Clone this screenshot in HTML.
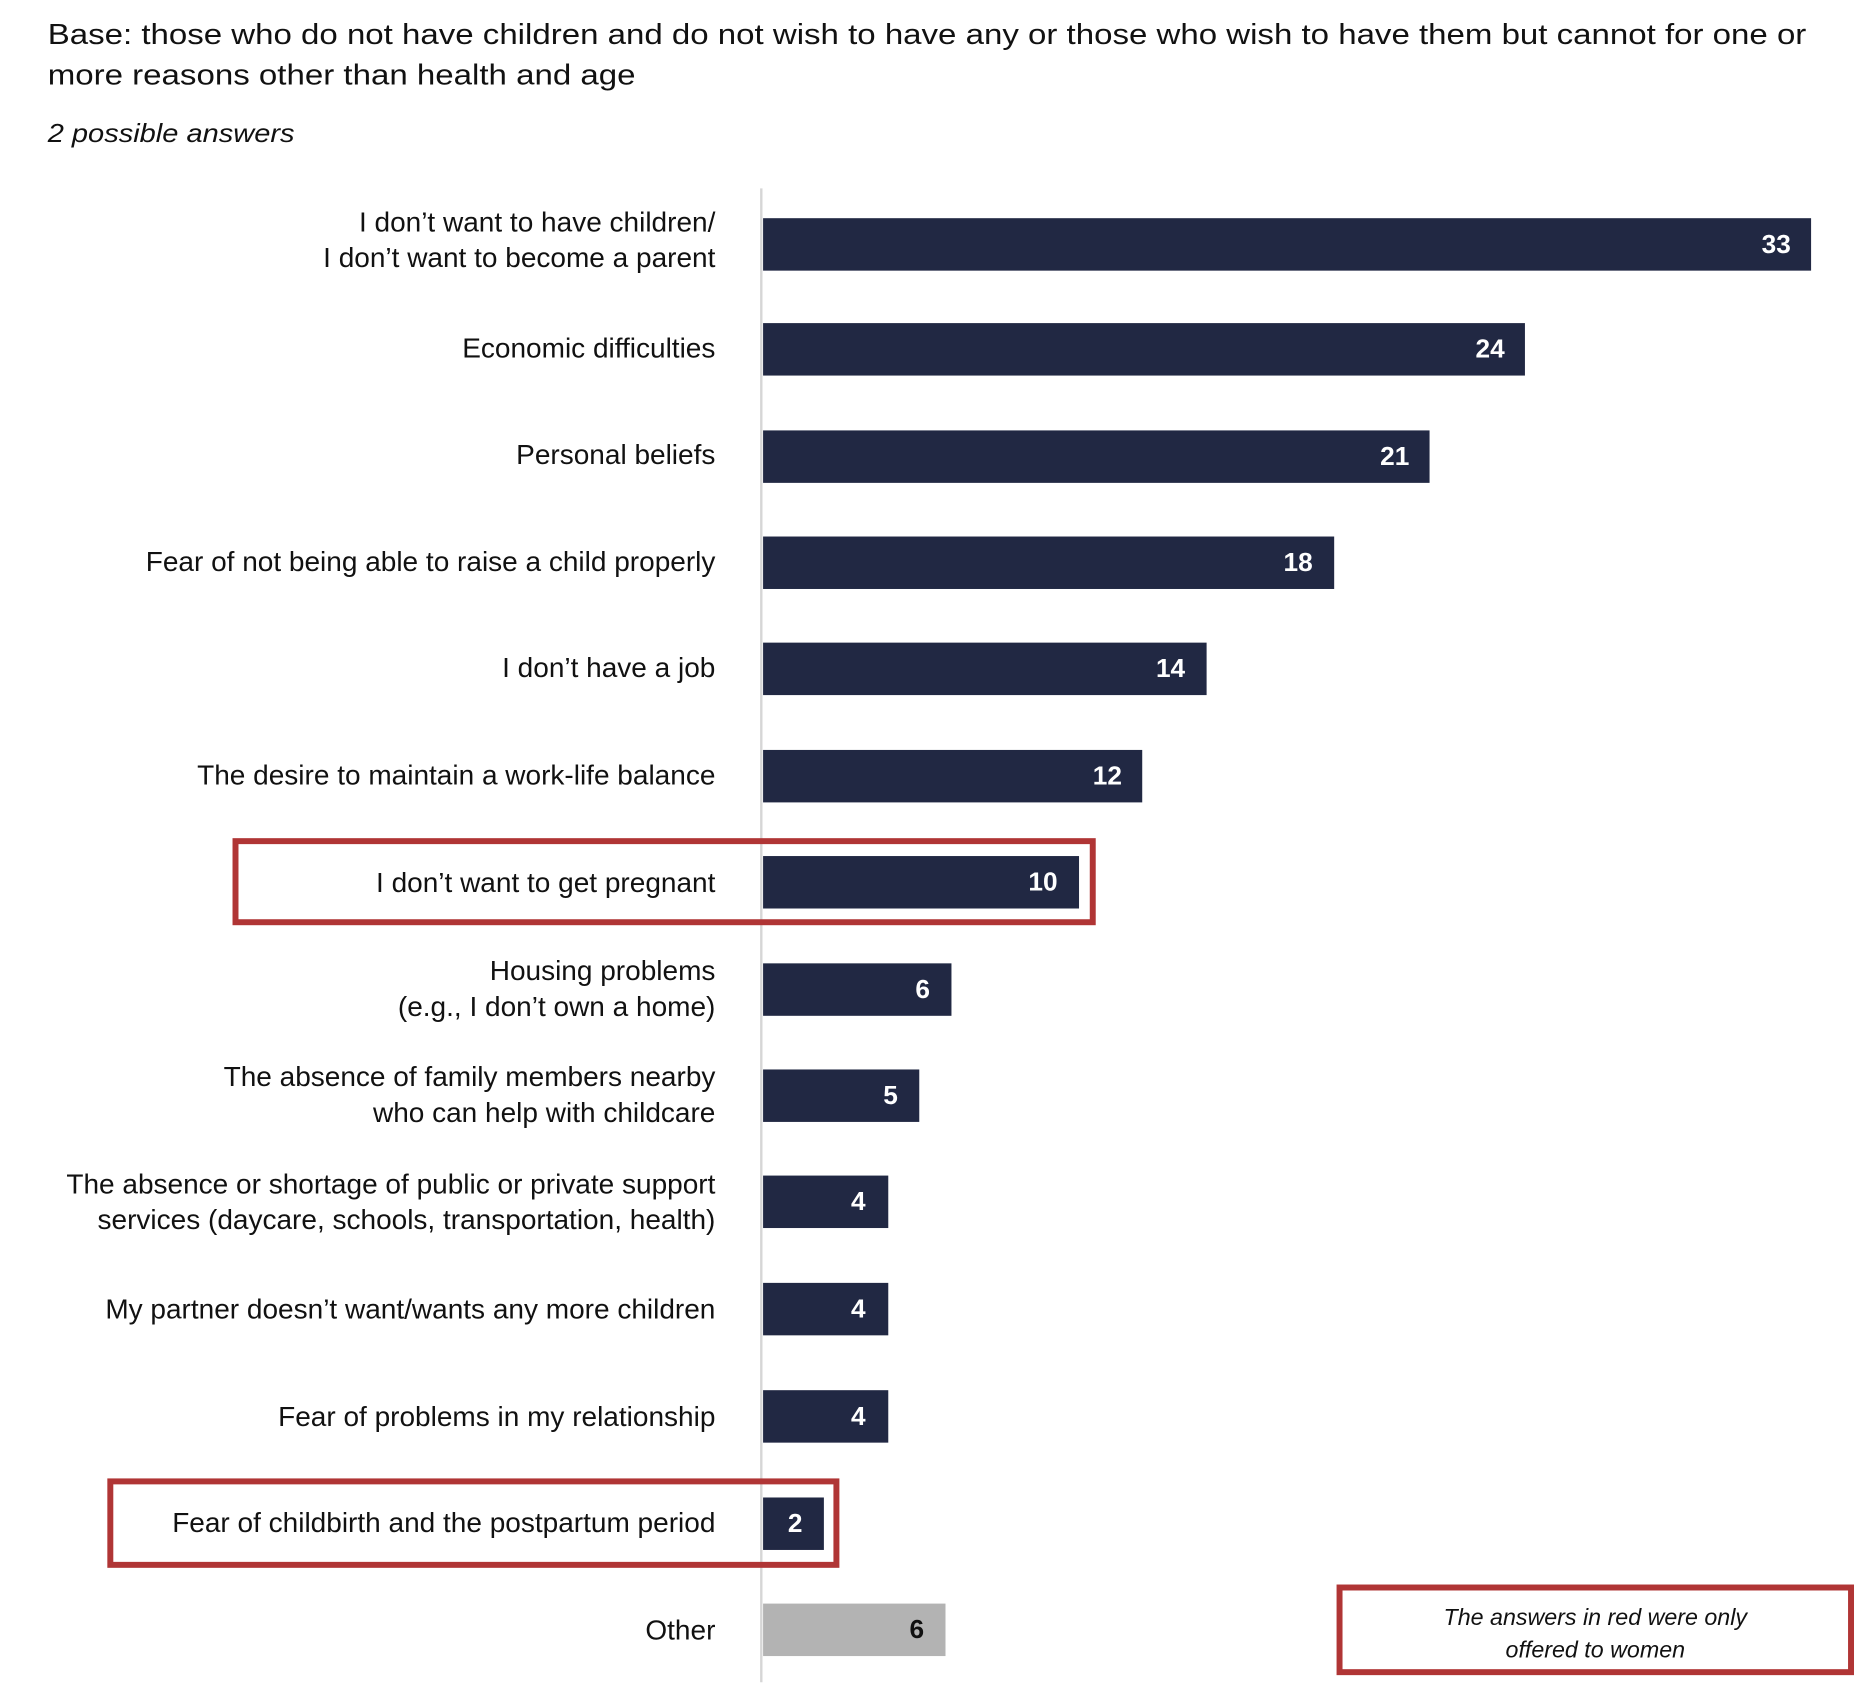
<!DOCTYPE html>
<html><head><meta charset="utf-8"><style>html,body{margin:0;padding:0;background:#fff}svg{display:block}text{font-family:"Liberation Sans",sans-serif}</style></head><body>
<svg width="1860" height="1696" viewBox="0 0 1560 1422.5" xmlns="http://www.w3.org/2000/svg">
<text x="40" y="37" font-size="24" fill="#111" textLength="1475" lengthAdjust="spacingAndGlyphs">Base: those who do not have children and do not wish to have any or those who wish to have them but cannot for one or</text>
<text x="40" y="71" font-size="24" fill="#111" textLength="493" lengthAdjust="spacingAndGlyphs">more reasons other than health and age</text>
<text x="40" y="119" font-size="21.5" font-style="italic" fill="#111" textLength="207" lengthAdjust="spacingAndGlyphs">2 possible answers</text>
<line x1="638.5" y1="158" x2="638.5" y2="1411" stroke="#d6d6d6" stroke-width="2"/>
<g fill="#212843">
<rect x="640" y="183" width="879" height="44"/>
<rect x="640" y="271" width="639" height="44"/>
<rect x="640" y="361" width="559" height="44"/>
<rect x="640" y="450" width="479" height="44"/>
<rect x="640" y="539" width="372" height="44"/>
<rect x="640" y="629" width="318" height="44"/>
<rect x="640" y="718" width="265" height="44"/>
<rect x="640" y="808" width="158" height="44"/>
<rect x="640" y="897" width="131" height="44"/>
<rect x="640" y="986" width="105" height="44"/>
<rect x="640" y="1076" width="105" height="44"/>
<rect x="640" y="1166" width="105" height="44"/>
<rect x="640" y="1256" width="51" height="44"/>
</g>
<rect x="640" y="1345" width="153" height="44" fill="#b3b3b3"/>
<g fill="#fff" font-size="22" font-weight="bold" text-anchor="end">
<text x="1502" y="212">33</text>
<text x="1262" y="300">24</text>
<text x="1182" y="390">21</text>
<text x="1101" y="479">18</text>
<text x="994" y="568">14</text>
<text x="941" y="658">12</text>
<text x="887" y="747">10</text>
<text x="780" y="837">6</text>
<text x="753" y="926">5</text>
<text x="726" y="1015">4</text>
<text x="726" y="1105">4</text>
<text x="726" y="1195">4</text>
<text x="673" y="1285">2</text>
</g>
<text x="775" y="1374" font-size="22" font-weight="bold" text-anchor="end" fill="#111">6</text>
<g font-size="23.5" fill="#111" text-anchor="end">
<text x="600" y="194">I don’t want to have children/</text>
<text x="600" y="224">I don’t want to become a parent</text>
<text x="600" y="300">Economic difficulties</text>
<text x="600" y="389">Personal beliefs</text>
<text x="600" y="479">Fear of not being able to raise a child properly</text>
<text x="600" y="568">I don’t have a job</text>
<text x="600" y="658">The desire to maintain a work-life balance</text>
<text x="600" y="748">I don’t want to get pregnant</text>
<text x="600" y="822">Housing problems</text>
<text x="600" y="852">(e.g., I don’t own a home)</text>
<text x="600" y="911">The absence of family members nearby</text>
<text x="600" y="941">who can help with childcare</text>
<text x="600" y="1001">The absence or shortage of public or private support</text>
<text x="600" y="1031">services (daycare, schools, transportation, health)</text>
<text x="600" y="1106">My partner doesn’t want/wants any more children</text>
<text x="600" y="1196">Fear of problems in my relationship</text>
<text x="600" y="1285">Fear of childbirth and the postpartum period</text>
<text x="600" y="1375">Other</text>
</g>
<g fill="none" stroke="#b03535" stroke-width="5">
<rect x="197.5" y="705.5" width="719" height="68"/>
<rect x="92.5" y="1242.5" width="609" height="70"/>
<rect x="1123.5" y="1331.5" width="429" height="71"/>
</g>
<g font-size="19.5" font-style="italic" fill="#111" text-anchor="middle">
<text x="1338" y="1363">The answers in red were only</text>
<text x="1338" y="1390">offered to women</text>
</g>
</svg>
</body></html>
